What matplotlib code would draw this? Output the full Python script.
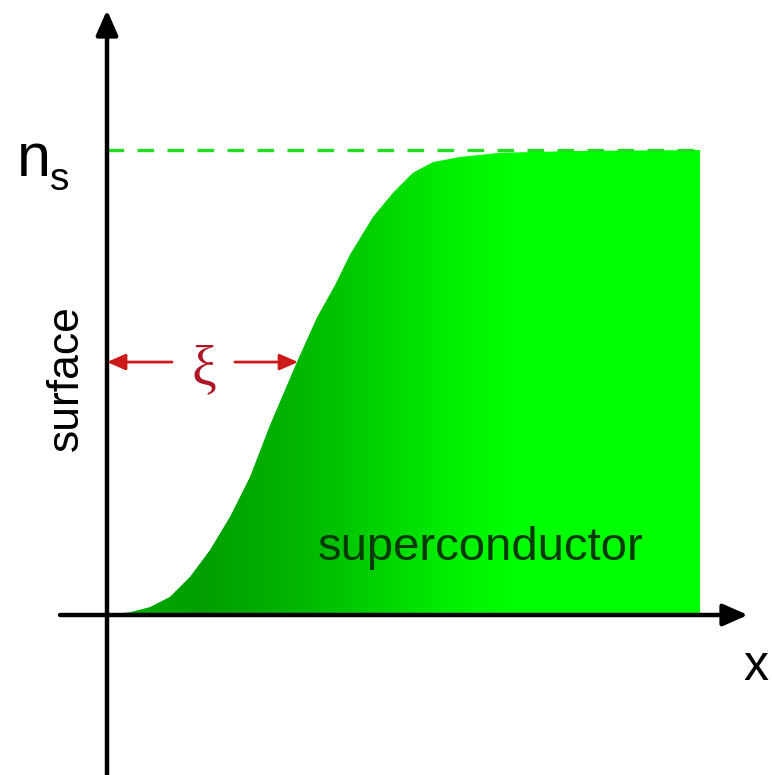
import matplotlib
matplotlib.use('Agg')
import matplotlib.pyplot as plt
import numpy as np
from matplotlib.patches import Polygon
from matplotlib.colors import LinearSegmentedColormap

# density profile n/n_s against depth x/xi
x_prof = [0, 0.119, 0.223, 0.326, 0.430, 0.534, 0.637, 0.741, 0.845, 0.984, 1.088,
          1.181, 1.259, 1.378, 1.482, 1.585, 1.689, 1.829, 2.036, 2.451, 3.073]
n_prof = [0, 0.006, 0.017, 0.039, 0.082, 0.140, 0.211, 0.297, 0.409, 0.544, 0.640,
          0.709, 0.775, 0.856, 0.908, 0.951, 0.974, 0.985, 0.994, 0.998, 1.0]
xi = 1.0
n_s = 1.0
x_end = 3.073

labels = {'ns': 'n', 'sub': 's', 'side': 'surface', 'body': 'superconductor',
          'xaxis': 'x', 'xi': 'ξ'}

fig = plt.figure(figsize=(7.72, 7.75), dpi=100)
ax = fig.add_axes([0, 0, 1, 1])
ax.set_xlim(-0.5544, 3.4456)
ax.set_ylim(-0.3441, 1.3226)
ax.axis('off')

# green fill, darker near the surface, bright further in
shade = LinearSegmentedColormap.from_list('sc', [
    (0.0, (0, 0.68, 0)), (0.16, (0, 0.62, 0)), (0.33, (0, 0.72, 0)),
    (0.46, (0, 0.83, 0)), (0.57, (0, 0.93, 0)), (0.68, (0, 1.0, 0)),
    (1.0, (0, 1.0, 0))])
grad = np.linspace(0, 1, 600)[None, :]
im = ax.imshow(grad, cmap=shade, extent=[0, x_end, 0, n_s], aspect='auto',
               interpolation='bilinear', zorder=1)
verts = list(zip(x_prof, n_prof)) + [(x_end, 0)]
poly = Polygon(verts, closed=True, facecolor='none', edgecolor='none')
ax.add_patch(poly)
im.set_clip_path(poly)

# n_s level
ax.plot([0, x_end], [n_s, n_s], color='#22dd22', lw=2.4, dashes=(5, 4), zorder=3)

# axes with arrows
axprops = dict(arrowstyle='-|>,head_length=0.75,head_width=0.33', lw=3.2,
               color='black', shrinkA=0, shrinkB=0, mutation_scale=20)
ax.annotate('', xy=(0, 1.301), xytext=(0, -0.3441), arrowprops=axprops, zorder=4)
ax.annotate('', xy=(3.321, 0), xytext=(-0.2435, 0), arrowprops=axprops, zorder=4)

# xi arrows
rprops = dict(arrowstyle='-|>,head_length=0.8,head_width=0.35', lw=2,
              color='#cc1a1a', shrinkA=0, shrinkB=0, mutation_scale=14)
ax.annotate('', xy=(0.0, 0.544), xytext=(0.337, 0.544), arrowprops=rprops, zorder=4)
ax.annotate('', xy=(0.99 * xi, 0.544), xytext=(0.663, 0.544), arrowprops=rprops, zorder=4)
ax.text(0.503, 0.527, labels['xi'], fontsize=40, family='Liberation Serif',
        color='#b01525', ha='center', va='center', zorder=5)

# texts
ax.text(-0.466, 0.944, labels['ns'], fontsize=44, family='Liberation Sans',
        ha='left', va='baseline')
ax.text(-0.295, 0.914, labels['sub'], fontsize=28, family='Liberation Sans',
        ha='left', va='baseline')
ax.text(-0.150, 0.510, labels['side'], fontsize=32, family='Liberation Sans',
        rotation=90, rotation_mode='anchor', ha='center', va='baseline')
ax.text(1.938, 0.118, labels['body'], fontsize=34, family='Liberation Sans',
        color='#0a3a0a', ha='center', va='baseline', zorder=5)
ax.text(3.300, -0.140, labels['xaxis'], fontsize=36, family='Liberation Sans',
        ha='left', va='baseline')

fig.savefig('out.png', dpi=100)
